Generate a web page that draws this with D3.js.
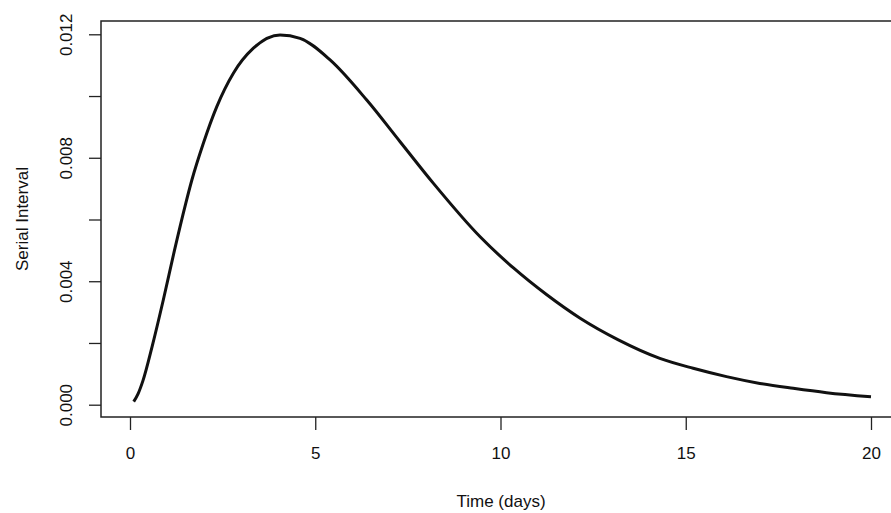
<!DOCTYPE html>
<html>
<head>
<meta charset="utf-8">
<script src="https://cdn.jsdelivr.net/npm/d3@7"></script>
<style>
  body { margin: 0; background: #fff; }
  text { font-family: "Liberation Sans", Arial, sans-serif; fill: #111; }
</style>
</head>
<body>
<svg id="chart" width="891" height="513"></svg>
<script>
// values
const timeDays = [0.1, 0.22, 0.35, 0.6, 0.9, 1.2, 1.5, 1.67, 1.98, 2.34, 2.79, 3.33, 4.05, 4.59,
  5.40, 6.39, 7.29, 8.19, 9.45, 10.35, 11.25, 12.15, 13.18, 14.3, 15.2, 16.1, 17.0, 17.9, 18.8, 20.0];
const serialInterval = [0.0001, 0.00036, 0.00078, 0.0019, 0.0034, 0.0050, 0.0065, 0.00728, 0.00847, 0.00965,
  0.01074, 0.01155, 0.01198, 0.01187, 0.01117, 0.00987, 0.00852, 0.00717, 0.00544, 0.00443, 0.00356,
  0.0028, 0.0021, 0.0015, 0.00118, 0.00091, 0.00069, 0.00053, 0.00039, 0.00026];
const xTicks = [0, 5, 10, 15, 20];
const yTicks = [0, 0.002, 0.004, 0.006, 0.008, 0.010, 0.012];
const yLabels = ['0.000', '', '0.004', '', '0.008', '', '0.012'];

const svg = d3.select('#chart');
const box = { left: 101, top: 21, right: 893, bottom: 417 };

const x = d3.scaleLinear().domain([0, 20]).range([130, 871]);
const y = d3.scaleLinear().domain([0, 0.012]).range([404.7, 34.3]);

// plot frame
svg.append('rect')
  .attr('x', box.left).attr('y', box.top)
  .attr('width', box.right - box.left).attr('height', box.bottom - box.top)
  .attr('fill', 'none').attr('stroke', '#222').attr('stroke-width', 1.5);

// x axis (R style: no domain line, frame does the job)
let xAxis = svg.append('g')
  .attr('transform', 'translate(0,' + box.bottom + ')')
  .call(d3.axisBottom(x).tickValues(xTicks).tickSize(13).tickPadding(17).tickFormat(d3.format('d')));
xAxis.select('.domain').remove();
xAxis.selectAll('line').attr('stroke', '#222').attr('stroke-width', 1.3);
xAxis.selectAll('text').attr('font-size', 17).attr('fill', '#111');

// y axis
let yAxis = svg.append('g')
  .attr('transform', 'translate(' + box.left + ',0)')
  .call(d3.axisLeft(y).tickValues(yTicks).tickSize(12).tickFormat((d, i) => yLabels[i]));
yAxis.select('.domain').remove();
yAxis.selectAll('line').attr('stroke', '#222').attr('stroke-width', 1.3);
yAxis.selectAll('text')
  .attr('font-size', 17).attr('fill', '#111')
  .attr('text-anchor', 'middle')
  .attr('dy', 0).attr('x', 0).attr('y', 0)
  .attr('transform', 'translate(-29,0) rotate(-90)');

// the curve
const line = d3.line()
  .x((d, i) => x(timeDays[i]))
  .y(d => y(d))
  .curve(d3.curveMonotoneX);

svg.append('path')
  .datum(serialInterval)
  .attr('d', line)
  .attr('fill', 'none')
  .attr('stroke', '#111')
  .attr('stroke-width', 3);

// axis titles
svg.append('text')
  .attr('x', 501).attr('y', 507)
  .attr('text-anchor', 'middle').attr('font-size', 17)
  .text('Time (days)');

svg.append('text')
  .attr('transform', 'translate(28,219) rotate(-90)')
  .attr('text-anchor', 'middle').attr('font-size', 17)
  .text('Serial Interval');
</script>
</body>
</html>
